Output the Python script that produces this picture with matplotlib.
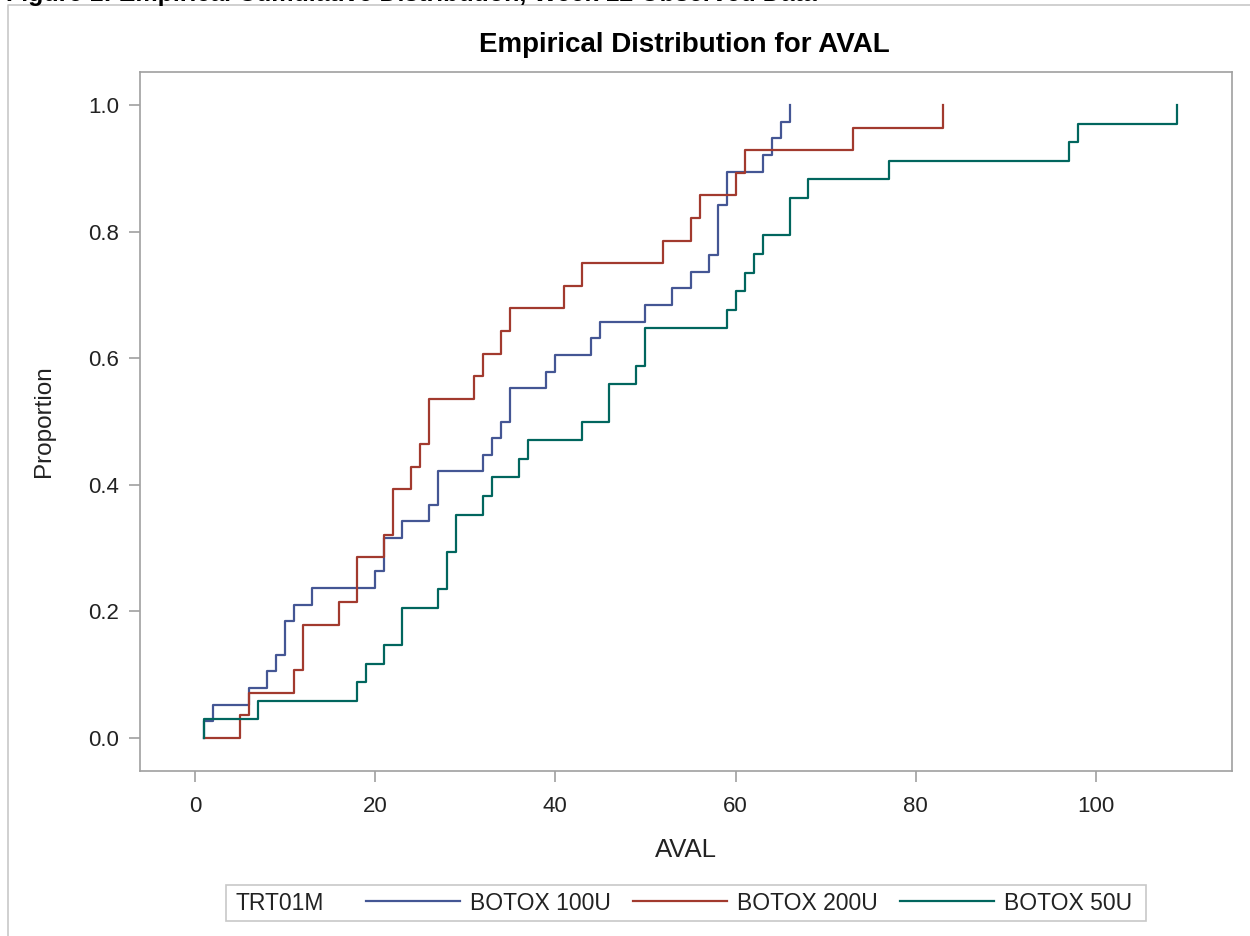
import numpy as np
import matplotlib
matplotlib.use("Agg")
import matplotlib.pyplot as plt
from matplotlib.lines import Line2D
from matplotlib.patches import Rectangle
from matplotlib.ticker import FormatStrFormatter


groups = ["BOTOX 100U", "BOTOX 200U", "BOTOX 50U"]
aval_100u = [1, 2, 6, 8, 9, 10, 10, 11, 13, 20, 21, 21, 23, 26, 27, 27, 32, 33,
             34, 35, 35, 39, 40, 44, 45, 50, 53, 55, 57, 58, 58, 58, 59, 59,
             63, 64, 65, 66]
aval_200u = [5, 6, 11, 12, 12, 16, 18, 18, 21, 22, 22, 24, 25, 26, 26, 31, 32,
             34, 35, 41, 43, 52, 55, 56, 60, 61, 73, 83]
aval_50u = [1, 7, 18, 19, 21, 23, 23, 27, 28, 28, 29, 29, 32, 33, 36, 37, 43,
            46, 46, 49, 50, 50, 59, 60, 61, 62, 63, 66, 66, 68, 77, 97, 98, 109]
x_ticks = [0, 20, 40, 60, 80, 100]
y_ticks = [0.0, 0.2, 0.4, 0.6, 0.8, 1.0]
colors = ["#445694", "#A23A2E", "#01665E"]

plt.rcParams["font.family"] = ["Liberation Sans", "DejaVu Sans"]

W, H = 1250, 936
fig = plt.figure(figsize=(W / 100, H / 100), dpi=100)
ax = fig.add_axes([140 / W, 1 - 771 / H, (1232 - 140) / W, (771 - 72) / H])

axis_gray = "#A0A0A0"
text_col = "#222222"

# outer graph border (runs off the right and bottom of the picture)
fig.add_artist(Line2D([8 / W, 8 / W, 1.0], [0.0, 1 - 5 / H, 1 - 5 / H],
                      transform=fig.transFigure, color="#C8C8C8", lw=1.2))

# page heading, mostly cut off by the top edge as in the source
fig.text(6 / W, 1 - 1 / H,
         "Figure 1: Empirical Cumulative Distribution, Week 12 Observed Data",
         fontsize=18, fontweight="bold", ha="left", va="baseline")

start = min(min(a) for a in (aval_100u, aval_200u, aval_50u))
handles = []
for vals, name, c in zip((aval_100u, aval_200u, aval_50u), groups, colors):
    xs, counts = np.unique(vals, return_counts=True)
    ys = np.cumsum(counts) / len(vals)
    ln, = ax.plot(np.r_[start, xs], np.r_[0.0, ys], drawstyle="steps-post",
                  color=c, lw=1.6, label=name)
    handles.append(ln)

ax.set_xlim(-6.1, 115.1)
ax.set_ylim(-0.052, 1.052)
ax.set_xticks(x_ticks)
ax.set_yticks(y_ticks)
ax.yaxis.set_major_formatter(FormatStrFormatter("%.1f"))
for s in ax.spines.values():
    s.set_color(axis_gray)
    s.set_linewidth(1.2)
ax.tick_params(direction="out", length=8, width=1.2, color=axis_gray,
               labelsize=16, labelcolor=text_col)
ax.tick_params(axis="x", pad=10)
ax.tick_params(axis="y", pad=7)

ax.set_xlabel("AVAL", fontsize=18.5, color=text_col)
ax.xaxis.set_label_coords(0.5, (771 - 838) / 699)
ax.set_ylabel("Proportion", fontsize=17.5, color=text_col)
ax.yaxis.set_label_coords((55 - 140) / 1092, 0.5)

fig.text(684 / W, 1 - 45 / H, "Empirical Distribution for AVAL",
         fontsize=20, fontweight="bold", ha="center", va="center")

# legend: frame, group title on the left, entries to the right
fig.add_artist(Rectangle((226 / W, 1 - 921 / H), (1146 - 226) / W, 36 / H,
                         transform=fig.transFigure, fill=False,
                         edgecolor="#C8C8C8", lw=1.2))
fig.text(236 / W, 1 - 901 / H, "TRT01M", fontsize=16.5, ha="left",
         va="center_baseline", color=text_col)
fig.legend(handles=handles, labels=groups, loc="center left",
           bbox_to_anchor=(366 / W, 1 - 903 / H), ncol=3, frameon=False,
           fontsize=16.5, handlelength=4.1, handletextpad=0.45,
           columnspacing=0.95, borderpad=0, borderaxespad=0, labelcolor=text_col)

fig.savefig("out.png", dpi=100)
